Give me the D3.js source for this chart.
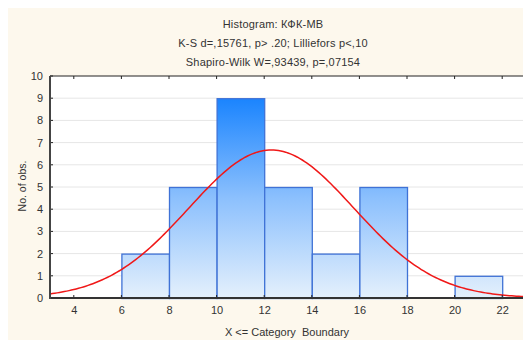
<!DOCTYPE html>
<html>
<head>
<meta charset="utf-8">
<script src="https://cdn.jsdelivr.net/npm/d3@7"></script>
<style>
  body { margin: 0; background: #fff; }
  text { font-family: "Liberation Sans", Arial, sans-serif; fill: #333; }
</style>
</head>
<body>
<svg id="chart" width="523" height="340"></svg>
<script>
(function(){
'use strict';

// bins: lower / upper boundary and count
var binLower = [6, 8, 10, 12, 14, 16, 20];
var binUpper = [8, 10, 12, 14, 16, 18, 22];
var binCount = [2, 5, 9, 5, 2, 5, 1];

var xTicks = [4, 6, 8, 10, 12, 14, 16, 18, 20, 22];
var yTicks = [0, 1, 2, 3, 4, 5, 6, 7, 8, 9, 10];

var titleLines = [
    'Histogram: КФК-МВ',
    'K-S d=,15761, p> .20; Lilliefors p<,10',
    'Shapiro-Wilk W=,93439, p=,07154'
];

// fitted normal
var fitMean = 12.3;
var fitSd = 3.47;
var fitN = 29;
var binWidth = 2;

var svg = d3.select('#chart');

svg.append('rect')
    .attr('x', 8).attr('y', 8)
    .attr('width', 515).attr('height', 332)
    .attr('fill', '#fdf8ed');

var plot = {left: 50, top: 76, bottom: 298, right: 526};

var x = d3.scaleLinear().domain([3, 23]).range([plot.left, plot.right]);
var y = d3.scaleLinear().domain([0, 10]).range([plot.bottom, plot.top]);

svg.append('rect')
    .attr('x', plot.left).attr('y', plot.top)
    .attr('width', plot.right - plot.left)
    .attr('height', plot.bottom - plot.top)
    .attr('fill', '#fff');

// grid
svg.append('g').selectAll('line')
    .data(yTicks.slice(1, -1))
    .enter().append('line')
    .attr('x1', plot.left).attr('x2', plot.right)
    .attr('y1', function(d){ return y(d); })
    .attr('y2', function(d){ return y(d); })
    .attr('stroke', '#e6e6e6')
    .attr('stroke-width', 1);

// bar gradient over plot height
var grad = svg.append('defs').append('linearGradient')
    .attr('id', 'barGrad')
    .attr('gradientUnits', 'userSpaceOnUse')
    .attr('x1', 0).attr('x2', 0)
    .attr('y1', y(0)).attr('y2', y(9));
grad.append('stop').attr('offset', '0%').attr('stop-color', '#e4f0fc');
grad.append('stop').attr('offset', '50%').attr('stop-color', '#8cc0fd');
grad.append('stop').attr('offset', '100%').attr('stop-color', '#1a84fe');

var bins = binCount.map(function(c, i){
    return {lo: binLower[i], hi: binUpper[i], n: c};
});

svg.append('g').selectAll('rect')
    .data(bins)
    .enter().append('rect')
    .attr('x', function(d){ return x(d.lo) + 0.5; })
    .attr('y', function(d){ return y(d.n) + 0.5; })
    .attr('width', function(d){ return x(d.hi) - x(d.lo); })
    .attr('height', function(d){ return y(0) - y(d.n); })
    .attr('fill', 'url(#barGrad)')
    .attr('stroke', '#3f72d6')
    .attr('stroke-width', 1.3);

// normal curve
var curveX = d3.range(3, 23.01, 0.1);
var normal = function(v){
    var z = (v - fitMean) / fitSd;
    return fitN * binWidth / (fitSd * Math.sqrt(2 * Math.PI)) * Math.exp(-z * z / 2);
};
svg.append('path')
    .datum(curveX)
    .attr('d', d3.line()
        .x(function(d){ return x(d); })
        .y(function(d){ return y(normal(d)); }))
    .attr('fill', 'none')
    .attr('stroke', '#f01818')
    .attr('stroke-width', 1.5);

// axes
var xAxis = svg.append('g')
    .attr('transform', 'translate(0,' + plot.bottom + ')')
    .call(d3.axisBottom(x).tickValues(xTicks).tickSize(0).tickPadding(8));
xAxis.select('.domain').remove();
xAxis.selectAll('text').attr('font-size', 11).attr('fill', '#333');

svg.append('g').selectAll('line')
    .data(xTicks)
    .enter().append('line')
    .attr('x1', function(d){ return x(d); })
    .attr('x2', function(d){ return x(d); })
    .attr('y1', plot.bottom).attr('y2', plot.bottom - 3)
    .attr('stroke', '#222');

svg.append('g').selectAll('line')
    .data(xTicks)
    .enter().append('line')
    .attr('x1', function(d){ return x(d); })
    .attr('x2', function(d){ return x(d); })
    .attr('y1', plot.top).attr('y2', plot.top + 3)
    .attr('stroke', '#222');

var yAxis = svg.append('g')
    .attr('transform', 'translate(' + plot.left + ',0)')
    .call(d3.axisLeft(y).tickValues(yTicks).tickSize(0).tickPadding(7));
yAxis.select('.domain').remove();
yAxis.selectAll('text').attr('font-size', 11).attr('fill', '#333');

svg.append('g').selectAll('line')
    .data(yTicks)
    .enter().append('line')
    .attr('x1', plot.left).attr('x2', plot.left + 3)
    .attr('y1', function(d){ return y(d); })
    .attr('y2', function(d){ return y(d); })
    .attr('stroke', '#222');

svg.append('line')
    .attr('x1', plot.left).attr('x2', plot.right)
    .attr('y1', plot.top).attr('y2', plot.top)
    .attr('stroke', '#222').attr('stroke-width', 1);
svg.append('line')
    .attr('x1', plot.left).attr('x2', plot.right)
    .attr('y1', plot.bottom).attr('y2', plot.bottom)
    .attr('stroke', '#333').attr('stroke-width', 2);
svg.append('line')
    .attr('x1', plot.left).attr('x2', plot.left)
    .attr('y1', plot.top).attr('y2', plot.bottom + 1)
    .attr('stroke', '#444').attr('stroke-width', 2);

// titles
svg.append('g').selectAll('text')
    .data(titleLines)
    .enter().append('text')
    .attr('x', 273)
    .attr('y', function(d, i){ return 28 + i * 19; })
    .attr('text-anchor', 'middle')
    .attr('font-size', 11)
    .attr('letter-spacing', 0.2)
    .text(function(d){ return d; });

svg.append('text')
    .attr('x', 287).attr('y', 336)
    .attr('text-anchor', 'middle')
    .attr('font-size', 11)
    .text('X <= Category\u00a0 Boundary');

svg.append('text')
    .attr('transform', 'translate(26,186) rotate(-90)')
    .attr('text-anchor', 'middle')
    .attr('font-size', 10.5)
    .text('No. of obs.');

})();
</script>
</body>
</html>
